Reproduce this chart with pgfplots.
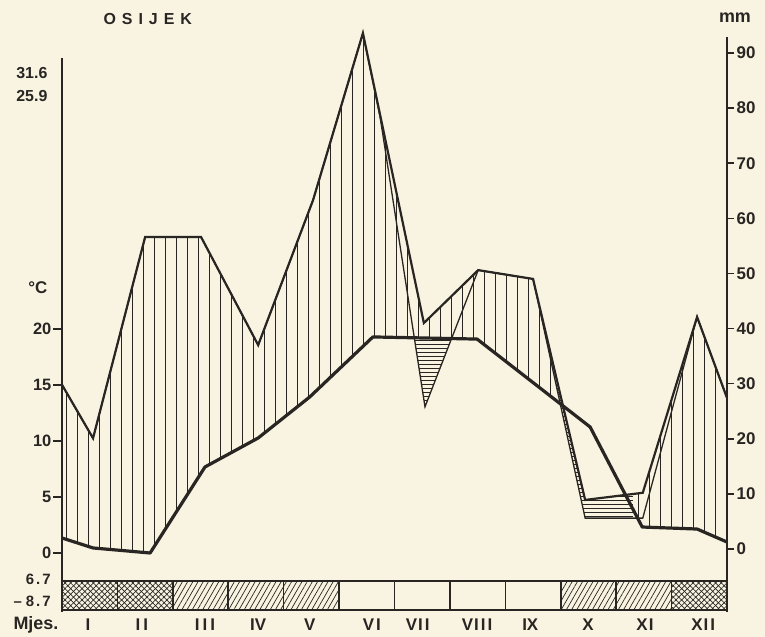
\documentclass[border=0pt]{standalone}
\usepackage{fontspec}
\setmainfont{Liberation Sans}
\usepackage{pgfplots}
\usepackage{pgfplotstable}
\pgfplotsset{compat=1.18}
\usepgfplotslibrary{fillbetween}
\usetikzlibrary{patterns.meta}
\definecolor{paper}{RGB}{249,244,226}
\definecolor{ink}{RGB}{40,37,34}
\pagecolor{paper}

% temperature (deg C)
\pgfplotstableread{
x t
0 1.34
0.56 0.45
1.59 0.0
2.58 7.68
3.54 10.27
4.47 13.93
5.61 19.29
7.49 19.10
8.53 15.10
9.53 11.25
10.47 2.32
11.46 2.14
12 0.98
}\Ttab
% precipitation (mm), lower (thin) line
\pgfplotstableread{
x mm
0 29.8
0.56 20.1
1.50 56.6
2.51 56.6
3.54 37.0
4.53 63.3
5.43 93.6
5.74 78.4
6.55 25.8
7.51 50.6
8.50 49.0
9.44 5.6
10.48 5.6
11.46 42.1
12 27.4
}\Pone
% precipitation (mm), upper (thick) line
\pgfplotstableread{
x mm
0 29.8
0.56 20.1
1.50 56.6
2.51 56.6
3.54 37.0
4.53 63.3
5.43 93.6
6.53 41.0
7.51 50.6
8.50 49.0
9.44 8.9
10.48 10.2
11.46 42.1
12 27.4
}\Ptwo

\begin{document}
\begin{tikzpicture}[x=1bp,y=1bp]
\path (-62,-24) rectangle (703,612);
\begin{axis}[at={(0,0)}, anchor=south west, scale only axis,
  width=665bp, height=575bp,
  xmin=0, xmax=12, ymin=-5.268, ymax=46.07, clip=false,
  axis x line=none, axis y line*=left, y axis line style={draw=none},
  ytick={0,5,10,15,20}, tick align=outside, major tick length=9bp,
  ytick style={ink, line width=1.6bp},
  yticklabel style={font=\fontsize{16.5}{16.5}\selectfont\bfseries, text=ink, inner xsep=1.5bp},
  unbounded coords=jump,
  /pgf/number format/assume math mode=true]

% invisible named paths
\addplot[name path=T, draw=none] table[x=x, y=t] {\Ttab};
\addplot[name path=P1, draw=none] table[x=x, y expr=0.49205*\thisrow{mm}+0.357] {\Pone};
\addplot[name path=P2, draw=none] table[x=x, y expr=0.49205*\thisrow{mm}+0.357] {\Ptwo};

% humid periods: vertical hatching
\addplot[pattern={Lines[angle=90, distance=11bp, line width=0.9bp]}, pattern color=ink]
  fill between[of=P2 and T, soft clip={domain=0:9.041}];
\addplot[pattern={Lines[angle=90, distance=11bp, line width=0.9bp]}, pattern color=ink]
  fill between[of=P2 and T, soft clip={domain=10.17:12}];
% arid periods: horizontal hatching
\addplot[pattern={Lines[angle=0, distance=4bp, line width=0.8bp]}, pattern color=ink]
  fill between[of=P1 and T, soft clip={domain=6.357:7.03}];
\addplot[pattern={Lines[angle=0, distance=4bp, line width=0.8bp]}, pattern color=ink]
  fill between[of=P1 and P2, soft clip={domain=8.5:10.3}];

% curves
\addplot[ink, line width=1.3bp] table[x=x, y expr=0.49205*\thisrow{mm}+0.357] {\Pone};
\addplot[ink, line width=2.2bp] table[x=x, y expr=0.49205*\thisrow{mm}+0.357] {\Ptwo};
\addplot[ink, line width=3.2bp, line join=round] table[x=x, y=t] {\Ttab};

% frost strip
\addplot[draw=none, pattern={Lines[angle=45, distance=4bp, line width=0.7bp]}, pattern color=ink] coordinates {(0,-2.5) (2,-2.5) (2,-5.09) (0,-5.09)} -- cycle;
\addplot[draw=none, pattern={Lines[angle=-45, distance=4bp, line width=0.7bp]}, pattern color=ink] coordinates {(0,-2.5) (2,-2.5) (2,-5.09) (0,-5.09)} -- cycle;
\addplot[draw=none, pattern={Lines[angle=45, distance=4bp, line width=0.7bp]}, pattern color=ink] coordinates {(11,-2.5) (12,-2.5) (12,-5.09) (11,-5.09)} -- cycle;
\addplot[draw=none, pattern={Lines[angle=-45, distance=4bp, line width=0.7bp]}, pattern color=ink] coordinates {(11,-2.5) (12,-2.5) (12,-5.09) (11,-5.09)} -- cycle;
\addplot[draw=none, pattern={Lines[angle=60, distance=4.5bp, line width=0.7bp]}, pattern color=ink] coordinates {(2,-2.5) (5,-2.5) (5,-5.09) (2,-5.09)} -- cycle;
\addplot[draw=none, pattern={Lines[angle=60, distance=4.5bp, line width=0.7bp]}, pattern color=ink] coordinates {(9,-2.5) (11,-2.5) (11,-5.09) (9,-5.09)} -- cycle;
% month boxes
\addplot[ink, line width=1.6bp] coordinates {(0,-2.5) (12,-2.5)};
\addplot[ink, line width=1.6bp] coordinates {(0,-5.09) (12,-5.09)};
\addplot[ink, line width=1.6bp] coordinates {
 (1,-2.5) (1,-5.09) (1.5,nan)
 (2,-2.5) (2,-5.09) (2.5,nan)
 (3,-2.5) (3,-5.09) (3.5,nan)
 (4,-2.5) (4,-5.09) (4.5,nan)
 (5,-2.5) (5,-5.09) (5.5,nan)
 (6,-2.5) (6,-5.09) (6.5,nan)
 (7,-2.5) (7,-5.09) (7.5,nan)
 (8,-2.5) (8,-5.09) (8.5,nan)
 (9,-2.5) (9,-5.09) (9.5,nan)
 (10,-2.5) (10,-5.09) (10.5,nan)
 (11,-2.5) (11,-5.09)};

% left axis line
\draw[ink, line width=2.2bp] (axis cs:0,44.2) -- (axis cs:0,-5.268);

% texts
\node[anchor=east, text=ink, font=\fontsize{16}{16}\selectfont\bfseries] at (axis cs:-0.2,42.86) {31.6};
\node[anchor=east, text=ink, font=\fontsize{16}{16}\selectfont\bfseries] at (axis cs:-0.2,40.80) {25.9};
\node[anchor=east, text=ink, font=\fontsize{17}{17}\selectfont\bfseries] at (axis cs:-0.2,23.66) {°C};
\node[anchor=east, text=ink, font=\fontsize{15}{15}\selectfont\bfseries] at (axis cs:-0.14,-2.32) {6\hspace{2bp}.\hspace{2bp}7};
\node[anchor=east, text=ink, font=\fontsize{15}{15}\selectfont\bfseries] at (axis cs:-0.14,-4.29) {--\hspace{4bp}8\hspace{2bp}.\hspace{2bp}7};
\node[anchor=west, text=ink, font=\fontsize{18}{18}\selectfont\bfseries] at (axis cs:-0.938,-6.43) {Mjes.};
\node[anchor=west, text=ink, font=\fontsize{16}{16}\selectfont\bfseries] at (axis cs:0.686,47.68) {O\hspace{6bp}S\hspace{6bp}I\hspace{6bp}J\hspace{6bp}E\hspace{6bp}K};
\node[text=ink, font=\fontsize{18}{18}\selectfont\bfseries] at (axis cs:12.144,47.77) {mm};

\node[text=ink, font=\fontsize{17}{17}\selectfont\bfseries] at (axis cs:0.47,-6.43) {I};
\node[text=ink, font=\fontsize{17}{17}\selectfont\bfseries] at (axis cs:1.44,-6.43) {I\hspace{3bp}I};
\node[text=ink, font=\fontsize{17}{17}\selectfont\bfseries] at (axis cs:2.58,-6.43) {I\hspace{3bp}I\hspace{3bp}I};
\node[text=ink, font=\fontsize{17}{17}\selectfont\bfseries] at (axis cs:3.54,-6.43) {IV};
\node[text=ink, font=\fontsize{17}{17}\selectfont\bfseries] at (axis cs:4.47,-6.43) {V};
\node[text=ink, font=\fontsize{17}{17}\selectfont\bfseries] at (axis cs:5.59,-6.43) {V\hspace{2bp}I};
\node[text=ink, font=\fontsize{17}{17}\selectfont\bfseries] at (axis cs:6.42,-6.43) {V\hspace{1bp}I\hspace{2bp}I};
\node[text=ink, font=\fontsize{17}{17}\selectfont\bfseries] at (axis cs:7.49,-6.43) {V\hspace{1bp}I\hspace{2bp}I\hspace{2bp}I};
\node[text=ink, font=\fontsize{17}{17}\selectfont\bfseries] at (axis cs:8.45,-6.43) {IX};
\node[text=ink, font=\fontsize{17}{17}\selectfont\bfseries] at (axis cs:9.49,-6.43) {X};
\node[text=ink, font=\fontsize{17}{17}\selectfont\bfseries] at (axis cs:10.52,-6.43) {X\hspace{1bp}I};
\node[text=ink, font=\fontsize{17}{17}\selectfont\bfseries] at (axis cs:11.57,-6.43) {X\hspace{1bp}I\hspace{2bp}I};
\end{axis}

\begin{axis}[at={(0,0)}, anchor=south west, scale only axis,
  width=665bp, height=575bp,
  xmin=0, xmax=12, ymin=-11.43, ymax=92.9,
  axis x line=none, axis y line*=right, y axis line style={ink, line width=2.2bp, -},
  ytick={0,10,...,90}, tick align=outside, major tick length=7bp,
  ytick style={ink, line width=1.6bp},
  yticklabel style={font=\fontsize{17}{17}\selectfont\bfseries, text=ink, inner xsep=2.5bp},
  /pgf/number format/assume math mode=true]
\end{axis}
\end{tikzpicture}
\end{document}
